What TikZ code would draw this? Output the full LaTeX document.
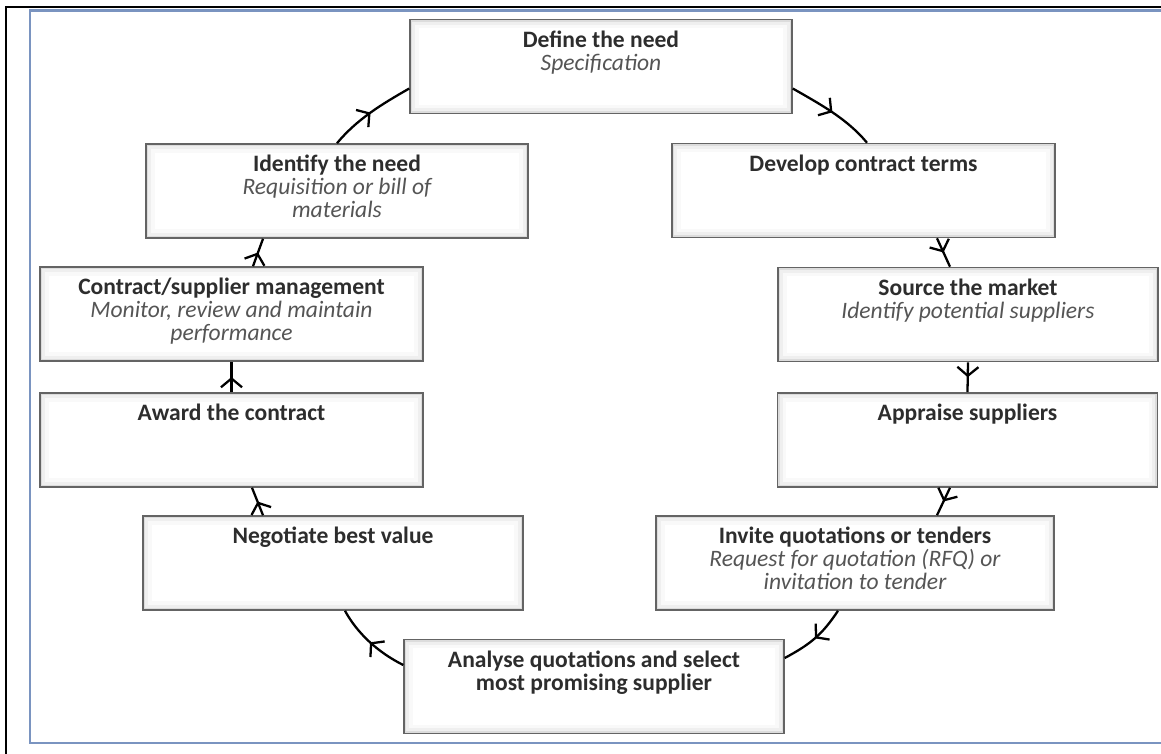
\documentclass[tikz,border=0pt]{standalone}
\usepackage{fontspec}
\setmainfont{Carlito}
\usetikzlibrary{calc,arrows.meta,decorations.markings}

\definecolor{frameblue}{RGB}{122,148,192}
\definecolor{headgray}{RGB}{45,45,45}
\definecolor{subgray}{RGB}{85,85,85}
\definecolor{edgegray}{RGB}{100,100,100}

\newcommand{\stagetext}[2]{\parbox[c][1.88cm][t]{7.6cm}{\centering\rule{0pt}{0.55cm}\textbf{\color{headgray}#1}\\
  {\itshape\color{subgray}#2}}}

\tikzset{
  stage/.style={draw=edgegray, line width=0.9pt, fill=white, inner sep=0pt,
    minimum height=1.88cm, minimum width=#1, font=\fontsize{13.4}{13.1}\selectfont,
    path picture={
      \foreach \w/\o in {10pt/0.025,6pt/0.04,2.5pt/0.08}
        \draw[black, opacity=\o, line width=\w] (path picture bounding box.south west) rectangle (path picture bounding box.north east);
    }},
  flow/.style={line width=1.3pt, postaction={decorate},
    decoration={markings, mark=at position 0.5 with {\arrow{Straight Barb[length=5pt,width=12pt]}}}}
}

\begin{document}
\begin{tikzpicture}[x=0.02cm, y=-0.02cm]
		%%%%% START %%%%%
		\useasboundingbox (0,0) rectangle (1161,754);
		
		\draw[black, line width=1.7pt] (6,754) -- (6,7) -- (1161,7);
		\draw[frameblue, line width=1.4pt] (1161,10.5) -- (30,10.5) -- (30,743) -- (1161,743);
		
		\node[stage=7.64cm] (define) at (601,66.5) {\stagetext{Define the need}{Specification}};
		\node[stage=7.66cm] (develop) at (863.5,190.5) {\stagetext{Develop contract terms}{}};
		\node[stage=7.60cm] (source) at (968,314.5) {\stagetext{Source the market}{Identify potential suppliers}};
		\node[stage=7.58cm] (appraise) at (967.5,440) {\stagetext{Appraise suppliers}{}};
		\node[stage=7.96cm] (invite) at (855,563) {\stagetext{Invite quotations or tenders}{Request for quotation (RFQ) or\\ invitation to tender}};
		\node[stage=7.28cm] (analyse) at (594,686.5) {\stagetext{Analyse quotations and select\\ most promising supplier}{}};
		\node[stage=7.44cm] (negotiate) at (333,563) {\stagetext{Negotiate best value}{}};
		\node[stage=7.66cm] (award) at (231.5,440) {\stagetext{Award the contract}{}};
		\node[stage=7.66cm] (manage) at (231.5,314) {\stagetext{Contract/supplier management}{Monitor, review and maintain\\ performance}};
		\node[stage=7.64cm] (identify) at (337,191) {\stagetext{Identify the need}{Requisition or bill of\\ materials}};
		
		\draw[flow] (identify.north) .. controls +(20,-24) and +(-28,16) .. ($(define.west)+(0,22)$);
		\draw[flow] ($(define.east)+(0,22)$) .. controls +(28,16) and +(-20,-24) .. ($(develop.north)+(3.5,0)$);
		\draw[flow] ($(develop.south)+(73.5,0)$) -- ($(source.north)+(-18,0)$);
		\draw[flow] (source.south) -- (appraise.north);
		\draw[flow] ($(appraise.south)+(-17.5,0)$) -- ($(invite.north)+(82,0)$);
		\draw[flow] ($(invite.south)+(-17,0)$) .. controls +(-16,24) and +(26,-14) .. ($(analyse.east)+(0,-28.5)$);
		\draw[flow] ($(analyse.west)+(0,-21.5)$) .. controls +(-26,-13) and +(12,22) .. ($(negotiate.south)+(12,0)$);
		\draw[flow] ($(negotiate.north)+(-70,0)$) -- ($(award.south)+(20.5,0)$);
		\draw[flow] (award.north) -- (manage.south);
		\draw[flow] ($(manage.north)+(21.5,0)$) -- ($(identify.south)+(-74,0)$);
		
		%%%%% END %%%%%
\end{tikzpicture}
\end{document}
